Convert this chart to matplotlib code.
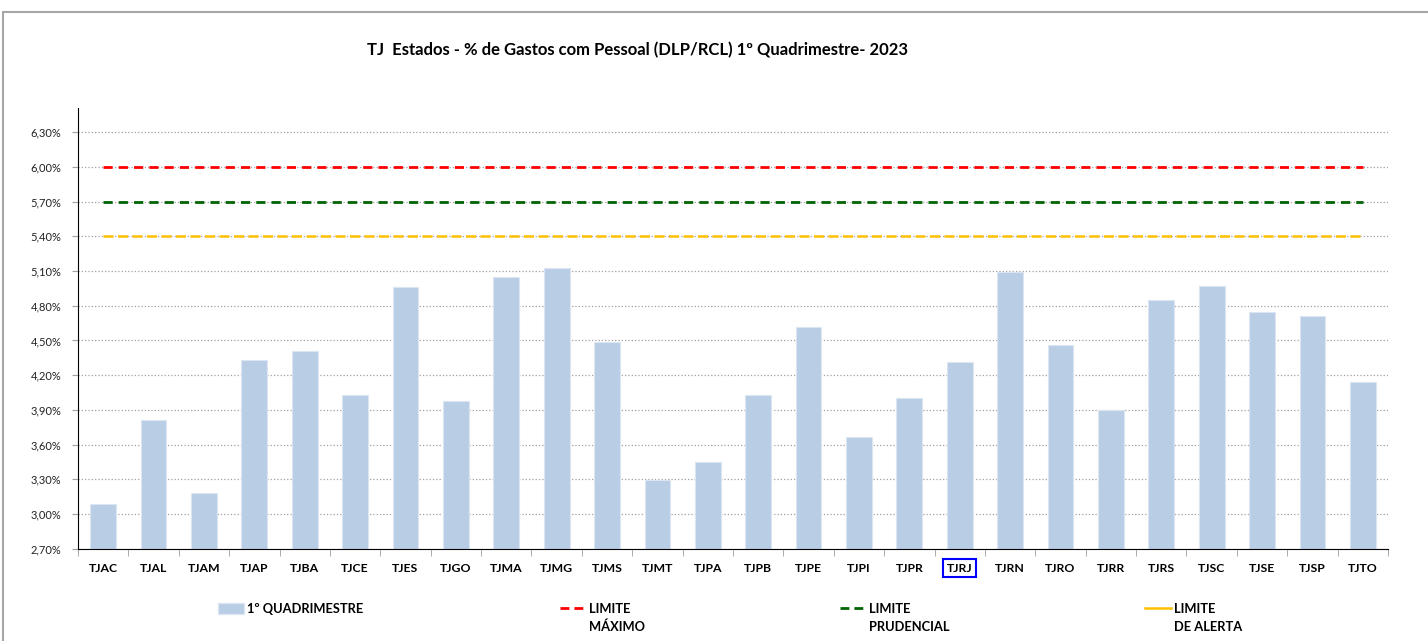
import matplotlib
matplotlib.use('Agg')
import matplotlib.pyplot as plt
import numpy as np
from matplotlib.lines import Line2D
from matplotlib.patches import Patch, Rectangle
from matplotlib.ticker import FuncFormatter, FixedLocator

# Dados (% DLP/RCL, 1o quadrimestre 2023)
tribunais = ['TJAC', 'TJAL', 'TJAM', 'TJAP', 'TJBA', 'TJCE', 'TJES', 'TJGO', 'TJMA',
             'TJMG', 'TJMS', 'TJMT', 'TJPA', 'TJPB', 'TJPE', 'TJPI', 'TJPR', 'TJRJ',
             'TJRN', 'TJRO', 'TJRR', 'TJRS', 'TJSC', 'TJSE', 'TJSP', 'TJTO']
quadrimestre_1 = [3.09, 3.81, 3.18, 4.33, 4.41, 4.03, 4.96, 3.98, 5.05,
                  5.13, 4.49, 3.29, 3.45, 4.03, 4.62, 3.67, 4.00, 4.31,
                  5.09, 4.46, 3.90, 4.85, 4.97, 4.75, 4.71, 4.14]
limite_maximo = 6.00
limite_prudencial = 5.70
limite_alerta = 5.40
y_ticks = [2.70, 3.00, 3.30, 3.60, 3.90, 4.20, 4.50, 4.80, 5.10, 5.40, 5.70, 6.00, 6.30]

titulo = 'TJ  Estados - % de Gastos com Pessoal (DLP/RCL) 1º Quadrimestre- 2023'

plt.rcParams['font.family'] = ['Lato', 'DejaVu Sans']

W, H = 1428, 641
fig = plt.figure(figsize=(W / 100, H / 100), dpi=100)
ax = fig.add_axes([78 / W, 1 - 548.7 / H, 1310 / W, (548.7 - 108) / H])

x = np.arange(len(tribunais))
ax.bar(x, quadrimestre_1, width=0.51, color='#B9CDE5', edgecolor='#DCE6F2',
       linewidth=0.8, zorder=2)

n = len(tribunais)
ax.plot(x, np.full(n, limite_maximo), color='#FF0000', lw=2.0, dashes=(3.3, 2.2), zorder=3)
ax.plot(x, np.full(n, limite_prudencial), color='#006400', lw=2.0, dashes=(3.3, 2.2), zorder=3)
ax.plot(x, np.full(n, limite_alerta), color='#FFC000', lw=1.8, dashes=(4.0, 1.8), zorder=3)

ax.set_xlim(-0.5, n - 0.5)
ax.set_ylim(2.70, 6.51)
ax.set_yticks(y_ticks)
ax.yaxis.set_major_formatter(FuncFormatter(lambda v, p: f'{v:.2f}%'.replace('.', ',')))
ax.tick_params(axis='y', labelsize=8, length=4, color='#A0A0A0', pad=8, labelcolor='#222222')
ax.grid(axis='y', color='#A0A0A0', linestyle=':', linewidth=0.9, zorder=0)
ax.set_axisbelow(True)

ax.set_xticks(x)
ax.set_xticklabels(tribunais, fontsize=8.8, fontweight='bold')
ax.xaxis.set_minor_locator(FixedLocator(np.arange(n + 1) - 0.5))
ax.tick_params(axis='x', which='major', length=0, pad=10)
ax.tick_params(axis='x', which='minor', length=5, color='#A0A0A0')
for lbl in ax.get_xticklabels():
    if lbl.get_text() == 'TJRJ':
        lbl.set_bbox(dict(facecolor='none', edgecolor='#0000FF', linewidth=1.5, pad=2.5))

for s in ['top', 'right']:
    ax.spines[s].set_visible(False)
ax.spines['left'].set_color('black')
ax.spines['bottom'].set_color('black')

fig.text(637.5 / W, 1 - 50 / H, titulo, ha='center', va='center',
         fontsize=12, fontweight='bold')

# legenda em quatro blocos, como no Excel
leg_y = 1 - 609 / H
entradas = [
    (Patch(facecolor='#B9CDE5', edgecolor='#DCE6F2'), '1º QUADRIMESTRE', None, 218),
    (Line2D([], [], color='#FF0000', lw=2.0, dashes=(3.2, 1.8)), 'LIMITE', 'MÁXIMO', 560),
    (Line2D([], [], color='#006400', lw=2.0, dashes=(3.2, 1.8)), 'LIMITE', 'PRUDENCIAL', 840),
    (Line2D([], [], color='#FFC000', lw=1.8), 'LIMITE', 'DE ALERTA', 1145),
]
legendas = []
for handle, txt, txt2, xpx in entradas:
    leg = fig.legend([handle], [txt], loc='center left', bbox_to_anchor=(xpx / W, leg_y),
                     frameon=False, borderpad=0, borderaxespad=0, handlelength=2.0,
                     handleheight=0.85, handletextpad=0.25,
                     prop={'size': 9.3, 'weight': 'bold'})
    legendas.append((leg, txt2))

fig.canvas.draw()
r = fig.canvas.get_renderer()
for leg, txt2 in legendas:
    if txt2:
        bb = leg.get_texts()[0].get_window_extent(r)
        fig.text(bb.x0 / W, 1 - 627 / H, txt2, ha='left', va='center',
                 fontsize=9.3, fontweight='bold')

fig.patches.append(Rectangle((3 / W, -0.05), 1.2, 1 - 12 / H + 0.05, transform=fig.transFigure,
                             fill=False, edgecolor='#A6A6A6', linewidth=1.5))

fig.savefig('out.png', dpi=100)
